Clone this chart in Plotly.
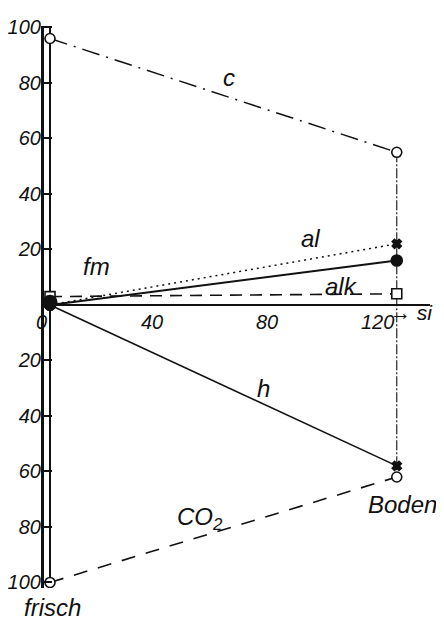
import plotly.graph_objects as go

# values (frisch -> Boden), si on x
si = [0, 120]
c_vals   = [96, 55]
al_vals  = [0, 22]
fm_vals  = [0, 16]
alk_vals = [3, 4]
h_vals   = [0, -58]
co2_vals = [-100, -62]

y_ticks = [100, 80, 60, 40, 20, 0, -20, -40, -60, -80, -100]
y_text  = ["100", "80", "60", "40", "20", "", "20", "40", "60", "80", "100"]
x_ticks = [0, 40, 80, 120]
x_text  = ["0", "40", "80", "120"]

INK  = "#111111"
FONT = "Liberation Sans, Arial, sans-serif"
Y_RANGE = [-102, 100.5]
X_RANGE = [-2.08, 131.5]

fig = go.Figure()

def line(y, dash, width, sym, size, fill, mode="lines+markers"):
    fig.add_trace(go.Scatter(
        x=si, y=y, mode=mode,
        line=dict(color=INK, width=width, dash=dash),
        marker=dict(symbol=sym, size=size, color=fill,
                    line=dict(color=INK, width=1.6)),
        showlegend=False, hoverinfo="skip",
    ))

# right-hand connector at Boden
fig.add_trace(go.Scatter(
    x=[si[1], si[1]], y=[c_vals[1], co2_vals[1]], mode="lines",
    line=dict(color=INK, width=1.1, dash="10px,2px,2px,2px"),
    showlegend=False, hoverinfo="skip",
))

line(c_vals,   "18px,7px,2px,7px", 1.5, "circle", 10, "white")
line(al_vals,  "2px,4px",          1.5, "x",       8, INK)
line(fm_vals,  "solid",            2.0, "circle", 11, INK)
line(alk_vals, "12px,8px",         1.6, "square", 10, "white")
line(h_vals,   "solid",            1.6, "x",       8, INK)
line(co2_vals, "14px,11px",        1.6, "circle", 10, "white")

# blob at the origin where the frisch points overlap
fig.add_trace(go.Scatter(
    x=[si[0]], y=[fm_vals[0] + 1], mode="markers",
    marker=dict(symbol="circle", size=15, color=INK),
    showlegend=False, hoverinfo="skip",
))

lab_font = dict(family=FONT, size=24, color=INK, style="italic")
labels = [
    ("c", 62, 82), ("al", 90, 24), ("fm", 16, 14), ("alk", 101, 6.5),
    ("h", 74, -30), ("CO<sub>2</sub>", 52, -77), ("Boden", 122, -72),
]
for txt, x, y in labels:
    fig.add_annotation(x=x, y=y, text=txt, showarrow=False, font=lab_font)

# text placed outside the data ranges
fig.add_annotation(x=0.023, y=-0.008, xref="paper", yref="paper", text="frisch",
                   showarrow=False, font=lab_font, xanchor="center", yanchor="top")
fig.add_annotation(x=1.013, y=0.491, xref="paper", yref="paper", text="→ si",
                   showarrow=False, font=dict(lab_font, size=21), xanchor="right")

# x tick labels sit just left of their ticks, under the axis
tick_font = dict(family=FONT, size=20, color=INK, style="italic")
for v, t in zip(x_ticks, x_text):
    fig.add_annotation(x=v, y=-1.5, text=t, showarrow=False, font=tick_font,
                       xanchor="right", yanchor="top", xshift=-1)

# page body offsets the figure by 8px, so it is sized to fit inside
fig.update_layout(
    width=428, height=617,
    paper_bgcolor="white", plot_bgcolor="white",
    margin=dict(l=36, r=6, t=18, b=37),
    font=dict(family=FONT, color=INK, size=20),
    xaxis=dict(
        range=X_RANGE, showgrid=False, automargin=False,
        zeroline=True, zerolinecolor=INK, zerolinewidth=1.6,
        anchor="free", position=(0 - Y_RANGE[0]) / (Y_RANGE[1] - Y_RANGE[0]),
        showline=True, linecolor=INK, linewidth=2,
        showticklabels=False, ticks="",
    ),
    yaxis=dict(
        range=Y_RANGE, showgrid=False, zeroline=False, automargin=False,
        showline=True, linecolor=INK, linewidth=3.2,
        tickvals=y_ticks, ticktext=y_text,
        ticks="inside", ticklen=8, tickwidth=1.5, tickcolor=INK,
        ticklabelstandoff=-4,
        tickfont=tick_font,
    ),
)

fig.write_html("out.html")
